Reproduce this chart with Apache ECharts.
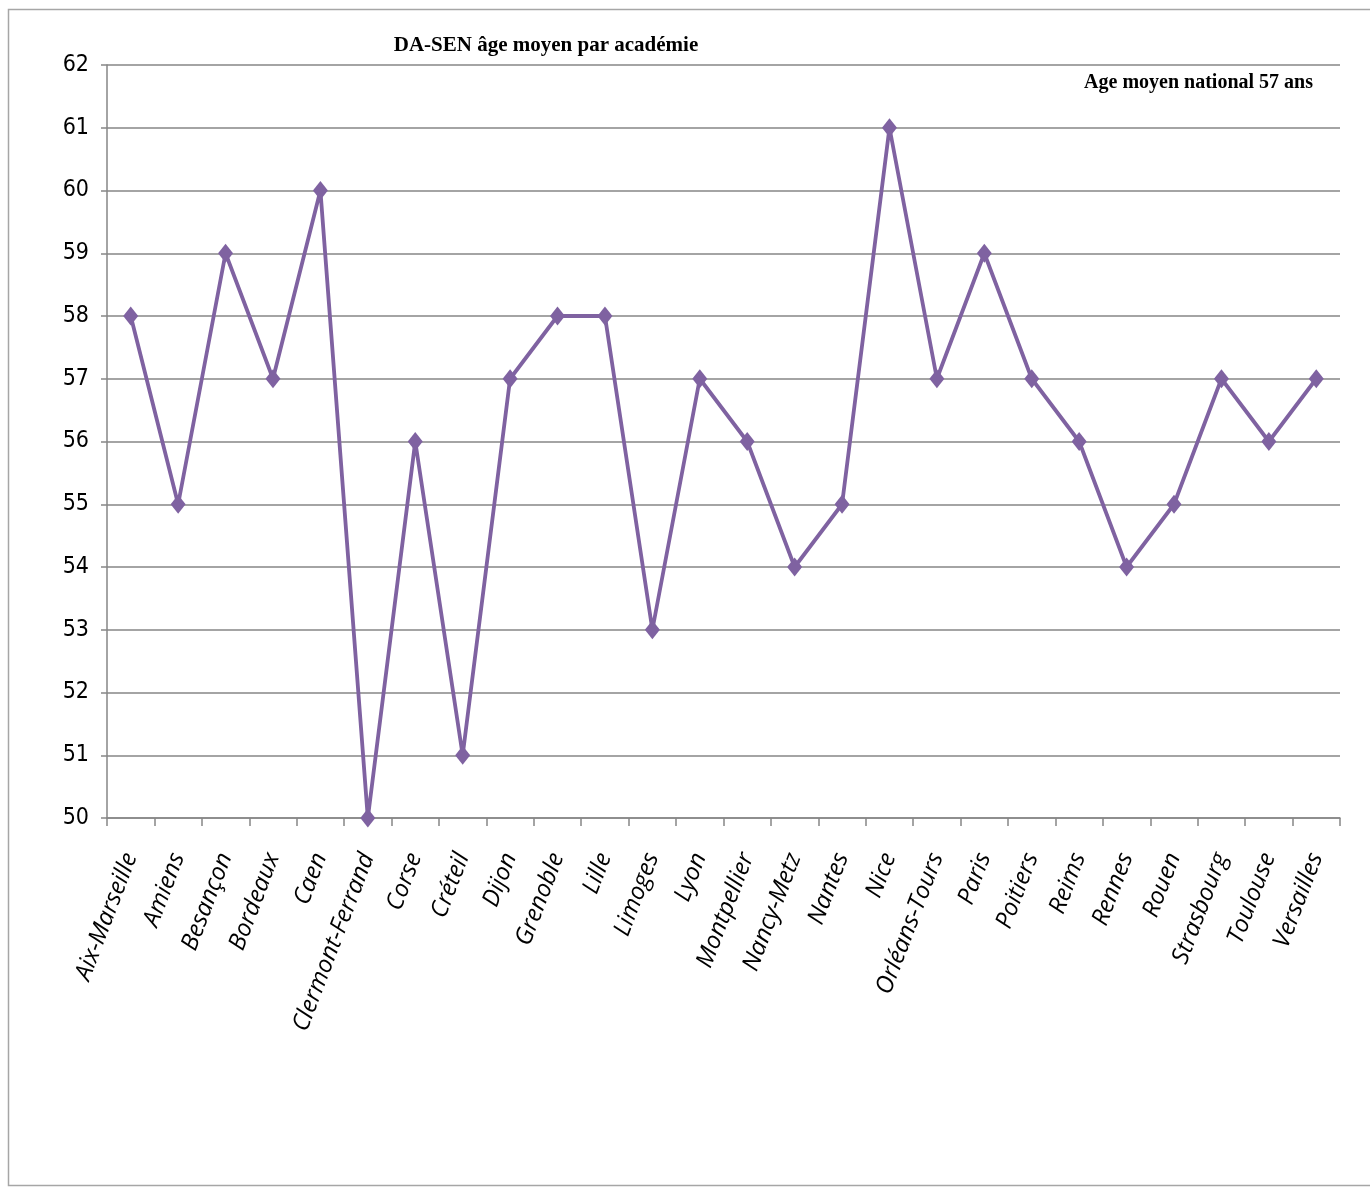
<!DOCTYPE html>
<html><head><meta charset="utf-8">
<script src="https://cdn.jsdelivr.net/npm/echarts@6/dist/echarts.min.js"></script>
<style>html,body{margin:0;padding:0;background:#fff}#c{width:1370px;height:1187px}</style>
</head><body><div id="c"></div>
<script>
const categories = ["Aix-Marseille","Amiens","Besançon","Bordeaux","Caen","Clermont-Ferrand","Corse","Créteil","Dijon","Grenoble","Lille","Limoges","Lyon","Montpellier","Nancy-Metz","Nantes","Nice","Orléans-Tours","Paris","Poitiers","Reims","Rennes","Rouen","Strasbourg","Toulouse","Versailles"];
const ageMoyen = [58,55,59,57,60,50,56,51,57,58,58,53,57,56,54,55,61,57,59,57,56,54,55,57,56,57];
const titleText = "DA-SEN âge moyen par académie";
const subtitleText = "Age moyen national 57 ans";
const yMin = 50, yMax = 62, yStep = 1;

const chart = echarts.init(document.getElementById('c'), null, {renderer:'canvas'});
chart.setOption({
  animation:false,
  backgroundColor:'#fff',
  graphic:[{type:'rect',shape:{x:8.5,y:9.5,width:1400,height:1176},style:{fill:'none',stroke:'#a6a6a6',lineWidth:1.5},silent:true,z:-1}],
  title:[
    {text:titleText,left:541,top:30,textAlign:'center',textStyle:{fontFamily:'Liberation Serif',fontWeight:'bold',fontSize:21,color:'#000'}},
    {text:subtitleText,right:52,top:68,textStyle:{fontFamily:'Liberation Serif',fontWeight:'bold',fontSize:20,color:'#000'}}
  ],
  grid:{left:107,right:30,top:65,bottom:369,containLabel:false},
  xAxis:{type:'category',data:categories,boundaryGap:true,
    axisLine:{show:true,lineStyle:{color:'#868686',width:1.5}},
    axisTick:{show:true,interval:0,length:8,lineStyle:{color:'#868686',width:1.5}},
    axisLabel:{interval:0,rotate:69,margin:36,fontFamily:'Open Sans',fontStyle:'italic',fontSize:24,color:'#000'}},
  yAxis:{type:'value',min:yMin,max:yMax,interval:yStep,
    axisLine:{show:true,lineStyle:{color:'#868686',width:1.5}},
    axisTick:{show:true,length:6,lineStyle:{color:'#868686',width:1.5}},
    splitLine:{show:true,lineStyle:{color:'#868686',width:1.5}},
    axisLabel:{margin:18,fontFamily:'Liberation Sans Narrow, DejaVu Sans Condensed, Liberation Sans',fontSize:23,color:'#000'}},
  series:[{type:'line',data:ageMoyen,symbol:'diamond',symbolSize:[15,19],
    lineStyle:{color:'#7F62A1',width:3.8},itemStyle:{color:'#7F62A1'}}]
});
</script></body></html>
